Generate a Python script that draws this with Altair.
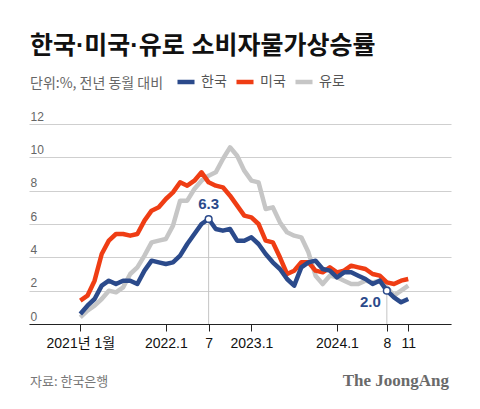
import altair as alt
import pandas as pd

# ---- data -------------------------------------------------------------
months = [f"{y}-{m:02d}" for y in (2021, 2022, 2023, 2024) for m in range(1, 13)][:47]
korea = [0.6, 1.1, 1.5, 2.3, 2.6, 2.4, 2.6, 2.6, 2.4, 3.2, 3.8, 3.7,
         3.6, 3.7, 4.1, 4.8, 5.4, 6.0, 6.3, 5.7, 5.6, 5.7, 5.0, 5.0,
         5.2, 4.8, 4.2, 3.7, 3.3, 2.7, 2.3, 3.4, 3.7, 3.8, 3.3, 3.2,
         2.8, 3.1, 3.1, 2.9, 2.7, 2.4, 2.6, 2.0, 1.6, 1.3, 1.5]
usa = [1.4, 1.7, 2.6, 4.2, 5.0, 5.4, 5.4, 5.3, 5.4, 6.2, 6.8, 7.0,
       7.5, 7.9, 8.5, 8.3, 8.6, 9.1, 8.5, 8.3, 8.2, 7.7, 7.1, 6.5,
       6.4, 6.0, 5.0, 4.9, 4.0, 3.0, 3.2, 3.7, 3.7, 3.2, 3.1, 3.4,
       3.1, 3.2, 3.5, 3.4, 3.3, 3.0, 2.9, 2.5, 2.4, 2.6, 2.7]
euro = [0.4, 0.8, 1.1, 1.5, 2.0, 1.9, 2.2, 3.0, 3.4, 4.1, 4.9, 5.0,
        5.1, 5.9, 7.4, 7.4, 8.1, 8.6, 8.9, 9.1, 9.9, 10.6, 10.1, 9.2,
        8.6, 8.5, 6.9, 7.0, 6.1, 5.5, 5.3, 5.2, 4.3, 2.9, 2.4, 2.9,
        2.8, 2.6, 2.4, 2.4, 2.6, 2.5, 2.6, 2.2, 1.7, 2.0, 2.3]
series_names = ["한국", "미국", "유로"]
series_colors = ["#2b4a8b", "#ef3d14", "#c6c6c6"]

tick_values = [0, 12, 18, 24, 36, 43, 46]
tick_labels = ["2021년 1월", "2022.1", "7", "2023.1", "2024.1", "8", "11"]
y_ticks = [0, 2, 4, 6, 8, 10, 12]

annot_idx = [18, 43]
annot_val = [6.3, 2.0]
annot_txt = ["6.3", "2.0"]

# ---- tables -----------------------------------------------------------
rows = []
for name, vals in zip(series_names, (korea, usa, euro)):
    for i, v in enumerate(vals):
        rows.append({"series": name, "idx": i, "month": months[i], "value": v})
df = pd.DataFrame(rows)
ann = pd.DataFrame({"idx": annot_idx, "value": annot_val, "label": annot_txt})

label_expr = " : ".join(
    f"datum.value == {v} ? '{t}'" for v, t in zip(tick_values, tick_labels)
) + " : ''"

KFONT = "Noto Sans CJK KR"
LFONT = "Liberation Sans, Noto Sans CJK KR"

x_scale = alt.Scale(domain=[-7.2, 52], nice=False, zero=False)
y_scale = alt.Scale(domain=[0, 12], nice=False)

x_axis = alt.Axis(
    values=tick_values, labelExpr=label_expr, grid=False, title=None,
    domain=True, domainColor="#222", domainWidth=1,
    ticks=True, tickColor="#222", tickSize=7, tickWidth=1,
    labelOverlap=False,
    labelFont=LFONT, labelFontSize=14, labelColor="#111", labelPadding=5)
y_axis = alt.Axis(
    values=y_ticks, grid=True, gridColor="#cfcfcf", gridWidth=1,
    domain=False, ticks=False, tickSize=0, title=None, labelOverlap=False,
    labelAlign="left", labelBaseline="bottom", labelPadding=-1, labelOffset=-1,
    labelFont=LFONT, labelFontSize=12, labelColor="#666")
x_enc = alt.X("idx:Q", scale=x_scale, axis=x_axis)
y_enc = alt.Y("value:Q", scale=y_scale, axis=y_axis)

color = alt.Color("series:N", scale=alt.Scale(domain=series_names, range=series_colors),
                  legend=alt.Legend(orient="none", legendX=146, legendY=-53,
                                    direction="horizontal", title=None,
                                    symbolType="stroke", symbolStrokeWidth=4.5,
                                    symbolSize=290, labelFont=KFONT, labelFontSize=14,
                                    labelColor="#555", labelOffset=4, columnPadding=0,
                                    gridAlign="none"))

base = alt.Chart(df)
lines = [
    base.transform_filter(alt.datum.series == s).mark_line(
        strokeWidth=4.5, strokeJoin="round", strokeCap="butt"
    ).encode(x=x_enc, y=y_enc, color=color)
    for s in ["유로", "미국", "한국"]
]

rules = alt.Chart(ann).mark_rule(color="#c4c4c4", strokeWidth=1).encode(
    x=x_enc, y=y_enc, y2=alt.datum(0))
points = alt.Chart(ann).mark_circle(fill="white", stroke="#2b4a8b", strokeWidth=1.5,
                                    opacity=1, size=45).encode(x=x_enc, y=y_enc)
lab1 = alt.Chart(ann).transform_filter(alt.datum.idx == 18).mark_text(
    align="center", baseline="bottom", dy=-7, font=LFONT, fontSize=15,
    fontWeight="bold", color="#2b4a8b").encode(x=x_enc, y=y_enc, text="label:N")
lab2 = alt.Chart(ann).transform_filter(alt.datum.idx == 43).mark_text(
    align="right", baseline="top", dx=-6, dy=4, font=LFONT, fontSize=15,
    fontWeight="bold", color="#2b4a8b").encode(x=x_enc, y=y_enc, text="label:N")

src = alt.Chart(pd.DataFrame({"t": ["자료: 한국은행"]})).mark_text(
    align="left", baseline="middle", font=KFONT, fontSize=13, color="#777").encode(
    x=alt.value(1), y=alt.value(258), text="t:N")
logo = alt.Chart(pd.DataFrame({"t": ["The JoongAng"]})).mark_text(
    align="right", baseline="alphabetic", font="Liberation Serif", fontSize=17,
    fontWeight="bold", color="#6a6a6a").encode(
    x=alt.value(420), y=alt.value(262), text="t:N")

chart = alt.layer(*lines, rules, points, lab1, lab2, src, logo).properties(
    width=422, height=200,
    background="white",
    autosize=alt.AutoSizeParams(type="none"),
    padding={"left": 21, "top": 116, "right": 21, "bottom": 77},
    title=alt.Title("한국·미국·유로 소비자물가상승률",
                    subtitle="단위:%, 전년 동월 대비",
                    anchor="start", frame="group", dx=1, dy=50, offset=30,
                    font="Liberation Sans, Noto Sans CJK KR", fontSize=25,
                    fontWeight="bold", color="#111",
                    subtitleFont=KFONT, subtitleFontSize=14, subtitleColor="#666",
                    subtitlePadding=18),
).configure_view(stroke="transparent", strokeWidth=0)

chart.save("out.html", embed_options={"renderer": "svg", "actions": False})
